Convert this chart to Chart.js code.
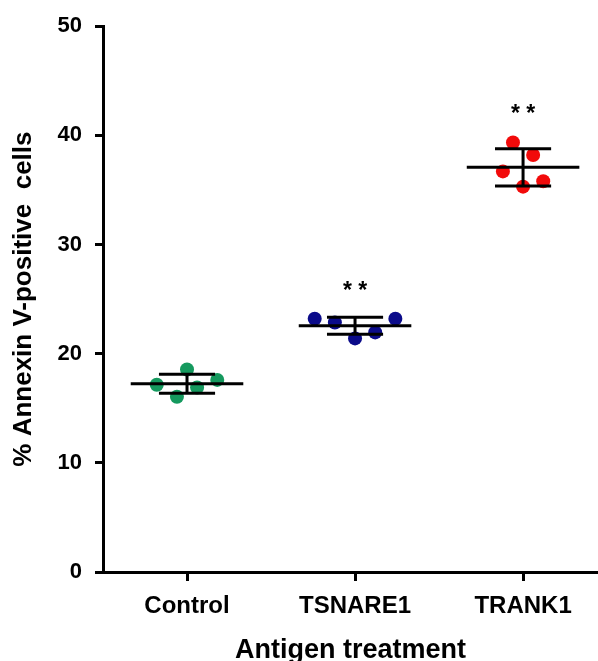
<!DOCTYPE html>
<html>
<head>
<meta charset="utf-8">
<title>Annexin V</title>
<script src="https://cdn.jsdelivr.net/npm/chart.js@4"></script>
<style>
  body { margin: 0; background: #fff; }
  canvas { display: block; }
</style>
</head>
<body>
<canvas id="annexinChart" width="598" height="661"></canvas>
<script>
// Groups on the x axis
const categories = ['Control', 'TSNARE1', 'TRANK1'];

// Replicates (% Annexin V-positive cells), left to right inside each group
const controlValues = [17.15, 16.05, 18.55, 16.9, 17.6];
const tsnareValues = [23.2, 22.85, 21.4, 21.95, 23.2];
const trankValues = [36.7, 39.35, 35.3, 38.2, 35.8];

// Horizontal spread of the replicates around the group (x units)
const controlJitter = [-0.18, -0.06, 0, 0.06, 0.18];
const tsnareJitter = [-0.24, -0.12, 0, 0.12, 0.24];
const trankJitter = [-0.12, -0.06, 0, 0.06, 0.12];

// Mean and SD per group
const means = [17.25, 22.55, 37.07];
const sds = [0.87, 0.78, 1.7];

// Significance marks above the groups
const significance = ['', '* *', '* *'];

// Y axis ticks
const yTicks = [0, 10, 20, 30, 40, 50];

const FONT = '"Liberation Sans", Arial, sans-serif';
const groupColors = ['#15995e', '#0b0b8a', '#f20a0a'];
const groupValues = [controlValues, tsnareValues, trankValues];
const groupJitter = [controlJitter, tsnareJitter, trankJitter];

// Build one scatter dataset per group
const pointSets = groupValues.map((vals, i) => ({
    data: vals.map((v, k) => ({ x: i + groupJitter[i][k], y: v })),
    backgroundColor: groupColors[i],
    borderColor: groupColors[i],
    borderWidth: 0,
    pointRadius: 7,
    pointHoverRadius: 7,
    order: 2
}));

// Mean line, SD whisker and caps, as short black segments
function segment(points) {
    return {
        data: points,
        showLine: true,
        borderColor: '#000',
        borderWidth: 3,
        pointRadius: 0,
        pointHoverRadius: 0,
        order: 1
    };
}

const barSets = [];
means.forEach((m, i) => {
    const lo = m - sds[i];
    const hi = m + sds[i];
    barSets.push(segment([{ x: i - 0.335, y: m }, { x: i + 0.335, y: m }]));
    barSets.push(segment([{ x: i - 0.167, y: hi }, { x: i + 0.167, y: hi }]));
    barSets.push(segment([{ x: i - 0.167, y: lo }, { x: i + 0.167, y: lo }]));
    barSets.push(segment([{ x: i, y: lo }, { x: i, y: hi }]));
});

// Draw the "**" marks above the significant groups
const starPlugin = {
    id: 'stars',
    afterDatasetsDraw(chart) {
        const { ctx, scales } = chart;
        ctx.save();
        ctx.font = 'bold 23px ' + FONT;
        ctx.fillStyle = '#000';
        ctx.textAlign = 'center';
        ctx.textBaseline = 'alphabetic';
        significance.forEach((s, i) => {
            if (!s) return;
            const top = Math.max(...groupValues[i]);
            ctx.fillText(s, scales.x.getPixelForValue(i), scales.y.getPixelForValue(top) - 21);
        });
        ctx.restore();
    }
};

new Chart(document.getElementById('annexinChart'), {
    type: 'scatter',
    data: { datasets: [...barSets, ...pointSets] },
    plugins: [starPlugin],
    options: {
        responsive: false,
        animation: false,
        devicePixelRatio: 1,
        layout: { autoPadding: false, padding: { top: 25, right: 0, bottom: 0, left: 0 } },
        plugins: {
            legend: { display: false },
            tooltip: { enabled: false }
        },
        scales: {
            x: {
                type: 'linear',
                min: -0.5,
                max: 2.446,
                afterBuildTicks: s => { s.ticks = categories.map((c, i) => ({ value: i })); },
                afterFit: s => {
                    s.height = 89;
                    s.paddingLeft = 0;
                    s.paddingRight = 0;
                },
                border: { display: true, color: '#000', width: 3 },
                grid: { drawOnChartArea: false, drawTicks: true, tickLength: 9, tickWidth: 3, tickColor: '#000' },
                ticks: {
                    autoSkip: false,
                    maxRotation: 0,
                    padding: 11,
                    color: '#000',
                    font: { family: FONT, size: 24, weight: 'bold' },
                    callback: v => categories[v]
                },
                title: {
                    display: true,
                    text: 'Antigen treatment',
                    color: '#000',
                    padding: 0,
                    font: { family: FONT, size: 27, weight: 'bold', lineHeight: 0.75 }
                }
            },
            y: {
                type: 'linear',
                min: 0,
                max: 50,
                afterBuildTicks: s => { s.ticks = yTicks.map(v => ({ value: v })); },
                afterFit: s => { s.width = 103; },
                border: { display: true, color: '#000', width: 3 },
                grid: { drawOnChartArea: false, drawTicks: true, tickLength: 8, tickWidth: 3, tickColor: '#000' },
                ticks: {
                    padding: 13,
                    color: '#000',
                    font: { family: FONT, size: 22, weight: 'bold' }
                },
                title: {
                    display: true,
                    text: '% Annexin V-positive  cells',
                    color: '#000',
                    padding: { top: 8, bottom: 0 },
                    font: { family: FONT, size: 26, weight: 'bold' }
                }
            }
        }
    }
});
</script>
</body>
</html>
